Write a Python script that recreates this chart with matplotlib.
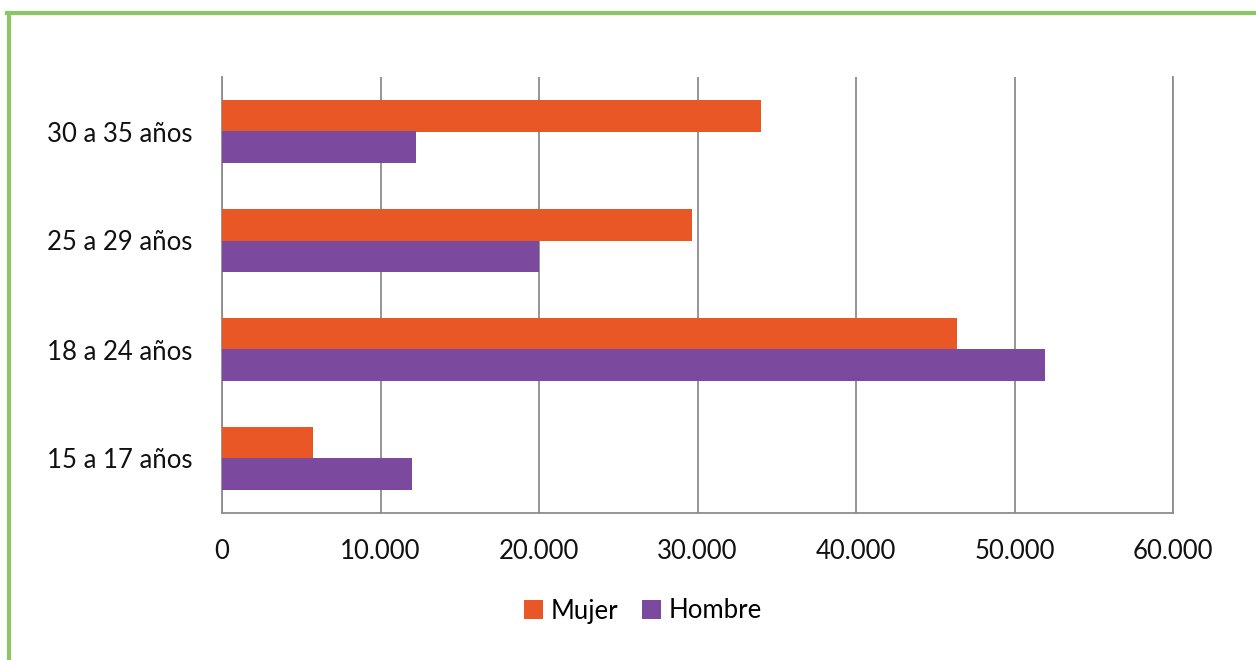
import matplotlib
matplotlib.use("Agg")
import matplotlib.pyplot as plt
from matplotlib.lines import Line2D
from matplotlib.ticker import FuncFormatter
import numpy as np

categories = ["15 a 17 años", "18 a 24 años", "25 a 29 años", "30 a 35 años"]
mujer = [5750, 46350, 29650, 34000]
hombre = [12000, 51950, 20000, 12250]
xticks = [0, 10000, 20000, 30000, 40000, 50000, 60000]

plt.rcParams['font.family'] = ['Lato', 'DejaVu Sans']

fig = plt.figure(figsize=(12.56, 6.6), dpi=100)
ax = fig.add_axes([222/1256, 1-513/660, (1173-222)/1256, (513-77)/660])

y = np.arange(len(categories))
h = 0.285
c_m = "#E95726"
c_h = "#7B4A9E"
ax.barh(y + h/2, mujer, height=h, color=c_m, label="Mujer", zorder=3)
ax.barh(y - h/2, hombre, height=h, color=c_h, label="Hombre", zorder=3)

ax.set_xlim(0, 60000)
ax.set_ylim(-0.5, len(categories) - 0.5)
ax.set_xticks(xticks)
ax.xaxis.set_major_formatter(FuncFormatter(lambda v, p: "0" if v == 0 else f"{int(v):,}".replace(",", ".")))
ax.set_yticks(y)
ax.set_yticklabels(categories)
ax.tick_params(axis='both', length=0, labelsize=18.5, colors="#111111")
ax.tick_params(axis='x', pad=19)
ax.tick_params(axis='y', pad=21)
ax.grid(axis='x', color="#8c8c8c", linewidth=1.3, zorder=0)
for s in ["top"]:
    ax.spines[s].set_visible(False)
for s in ["left", "bottom", "right"]:
    ax.spines[s].set_color("#8c8c8c")
    ax.spines[s].set_linewidth(1.3)

leg = fig.legend(loc="center", bbox_to_anchor=(643/1256, 1-611/660), ncol=2, frameon=False,
                 fontsize=18.5, handlelength=0.72, handleheight=0.72, handletextpad=0.3, columnspacing=0.95)

# green frame (top and left)
fig.add_artist(Line2D([8.5/1256, 8.5/1256], [0, 1-12.5/660], color="#8DC665", linewidth=3, transform=fig.transFigure))
fig.add_artist(Line2D([7/1256, 1], [1-12.5/660, 1-12.5/660], color="#8DC665", linewidth=3, transform=fig.transFigure))

fig.savefig("out.png", dpi=100)
